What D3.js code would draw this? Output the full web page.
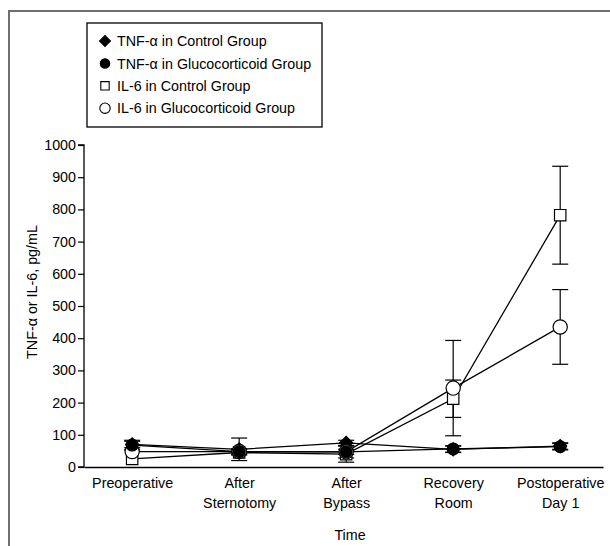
<!DOCTYPE html>
<html>
<head>
<meta charset="utf-8">
<script src="https://cdn.jsdelivr.net/npm/d3@7"></script>
<style>
  body { margin: 0; background: #fff; }
  svg text { font-family: "Liberation Sans", Arial, sans-serif; fill: #000; }
</style>
</head>
<body>
<div id="chart"></div>
<script>
// categories along the time axis (line 1 / line 2)
var categories = [["Preoperative"], ["After", "Sternotomy"], ["After", "Bypass"], ["Recovery", "Room"], ["Postoperative", "Day 1"]];

// series values, pg/mL
var tnfControl      = [70, 55, 75, 55, 65];
var tnfGluco        = [68, 48, 47, 56, 63];
var il6Control      = [25, 45, 40, 212, 782];
var il6Gluco        = [48, 48, 47, 245, 435];

// error bar half-widths (0 = none visible)
var tnfControlErr   = [10, 35, 8, 10, 10];
var tnfGlucoErr     = [15, 8, 8, 10, 10];
var il6ControlErr   = [0, 8, 25, 58, 152];
var il6GlucoErr     = [0, 8, 19, 148, 116];

var yTicks = [0, 100, 200, 300, 400, 500, 600, 700, 800, 900, 1000];

var legendLabels = ["TNF-\u03b1 in Control Group", "TNF-\u03b1 in Glucocorticoid Group",
                    "IL-6 in Control Group", "IL-6 in Glucocorticoid Group"];

var width = 610, height = 546;
var fs = "14.3px";

var svg = d3.select("#chart").append("svg")
    .attr("width", width)
    .attr("height", height);

// outer frame (only top and left are in view)
svg.append("rect")
  .attr("x", 9).attr("y", 11)
  .attr("width", 700).attr("height", 600)
  .attr("fill", "none")
  .attr("stroke", "#6e6e6e")
  .attr("stroke-width", 2);

var x = d3.scaleLinear()
  .domain([-0.45, 4.4])
  .range([84, 603]);

var y = d3.scaleLinear()
  .domain([0, 1000])
  .range([467, 145]);

// Y axis
var yAxis = d3.axisLeft(y)
  .tickValues(yTicks)
  .tickFormat(d3.format("d"))
  .tickSize(6)
  .tickPadding(2);

var gy = svg.append("g")
  .attr("transform", "translate(84,0)")
  .call(yAxis);
gy.select(".domain").attr("stroke", "#000").attr("stroke-width", 1.3)
  .attr("d", "M-6," + y(1000) + "H0V" + y(0) + "H-6");
gy.selectAll(".tick line").attr("stroke", "#000").attr("stroke-width", 1.2);
gy.selectAll(".tick text").style("font-size", fs);

// X axis (no ticks)
var xAxis = d3.axisBottom(x)
  .tickValues(d3.range(categories.length))
  .tickSize(0)
  .tickFormat("");

var gx = svg.append("g")
  .attr("transform", "translate(0," + y(0) + ")")
  .call(xAxis);
gx.select(".domain").attr("stroke", "#000").attr("stroke-width", 1.3);

gx.selectAll(".tick").each(function(d) {
  var t = d3.select(this).append("text")
    .attr("text-anchor", "middle")
    .style("font-size", fs);
  categories[d].forEach(function(line, i) {
    t.append("tspan").attr("x", 0).attr("y", 21 + i * 20).text(line);
  });
});

// axis titles
svg.append("text")
  .attr("x", 350).attr("y", 540)
  .attr("text-anchor", "middle")
  .style("font-size", fs)
  .text("Time");

svg.append("text")
  .attr("transform", "translate(37,292) rotate(-90)")
  .attr("text-anchor", "middle")
  .style("font-size", fs)
  .text("TNF-\u03b1 or IL-6, pg/mL");

var series = [
  {values: il6Control, err: il6ControlErr, symbol: d3.symbolSquare, size: 130, rot: 0, fill: "#fff"},
  {values: tnfControl, err: tnfControlErr, symbol: d3.symbolSquare, size: 85, rot: 45, fill: "#000"},
  {values: il6Gluco,   err: il6GlucoErr,   symbol: d3.symbolCircle, size: 160, rot: 0, fill: "#fff"},
  {values: tnfGluco,   err: tnfGlucoErr,   symbol: d3.symbolCircle, size: 110, rot: 0, fill: "#000"}
];

var line = d3.line()
  .x(function(d, i) { return x(i); })
  .y(function(d) { return y(d); });

// error bars
series.forEach(function(s) {
  var g = svg.append("g").attr("stroke", "#000").attr("stroke-width", 1.2);
  s.values.forEach(function(v, i) {
    if (!s.err[i]) return;
    var cx = x(i), y1 = y(v + s.err[i]), y2 = y(Math.max(0, v - s.err[i]));
    g.append("line").attr("x1", cx).attr("x2", cx).attr("y1", y1).attr("y2", y2);
    g.append("line").attr("x1", cx - 8).attr("x2", cx + 8).attr("y1", y1).attr("y2", y1);
    g.append("line").attr("x1", cx - 8).attr("x2", cx + 8).attr("y1", y2).attr("y2", y2);
  });
});

// lines
series.forEach(function(s) {
  svg.append("path")
    .datum(s.values)
    .attr("d", line)
    .attr("fill", "none")
    .attr("stroke", "#000")
    .attr("stroke-width", 1.3);
});

// markers
series.forEach(function(s) {
  svg.append("g").selectAll("path")
    .data(s.values)
    .enter()
    .append("path")
      .attr("transform", function(d, i) { return "translate(" + x(i) + "," + y(d) + ") rotate(" + s.rot + ")"; })
      .attr("d", d3.symbol().type(s.symbol).size(s.size))
      .attr("fill", s.fill)
      .attr("stroke", "#000")
      .attr("stroke-width", 1.2);
});

// legend
var legend = svg.append("g");
legend.append("rect")
  .attr("x", 87).attr("y", 23)
  .attr("width", 235).attr("height", 104)
  .attr("fill", "#fff")
  .attr("stroke", "#000")
  .attr("stroke-width", 1.3);

var legendSymbols = [
  {symbol: d3.symbolSquare, size: 60, rot: 45, fill: "#000"},
  {symbol: d3.symbolCircle, size: 70, rot: 0, fill: "#000"},
  {symbol: d3.symbolSquare, size: 70, rot: 0, fill: "#fff"},
  {symbol: d3.symbolCircle, size: 85, rot: 0, fill: "#fff"}
];

legendLabels.forEach(function(label, i) {
  var ly = 41 + i * 22.4;
  var sym = legendSymbols[i];
  legend.append("path")
    .attr("transform", "translate(105," + ly + ") rotate(" + sym.rot + ")")
    .attr("d", d3.symbol().type(sym.symbol).size(sym.size))
    .attr("fill", sym.fill)
    .attr("stroke", "#000")
    .attr("stroke-width", 1.1);
  legend.append("text")
    .attr("x", 117).attr("y", ly)
    .attr("dy", "0.36em")
    .style("font-size", fs)
    .text(label);
});
</script>
</body>
</html>
